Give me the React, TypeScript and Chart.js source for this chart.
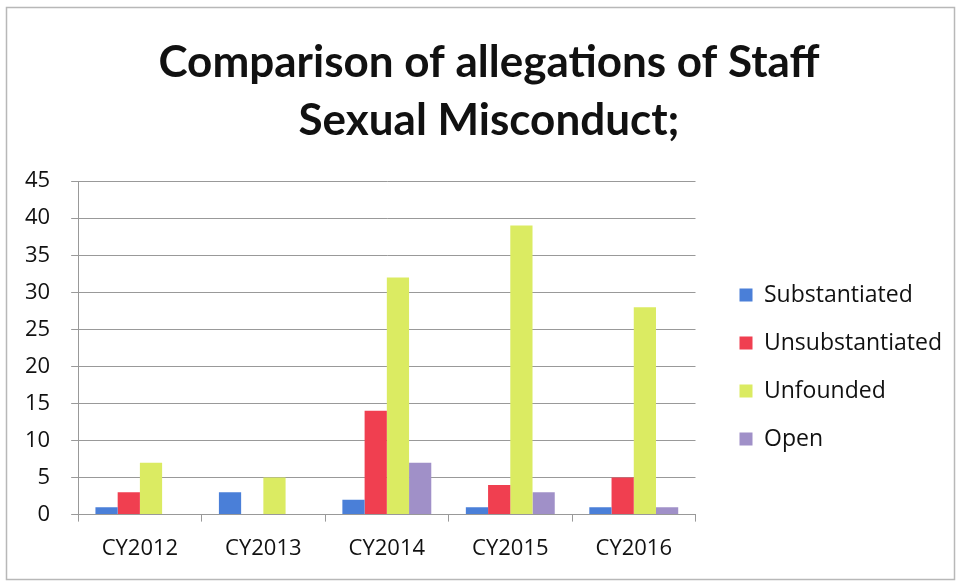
import React, { useEffect, useRef } from "react";
import { Chart, registerables } from "chart.js";

Chart.register(...registerables);

const categories = ["CY2012", "CY2013", "CY2014", "CY2015", "CY2016"];
const substantiated = [1, 3, 2, 1, 1];
const unsubstantiated = [3, 0, 14, 4, 5];
const unfounded = [7, 5, 32, 39, 28];
const open = [0, 0, 7, 3, 1];
const yTicks = [0, 5, 10, 15, 20, 25, 30, 35, 40, 45];
const titleLines = ["Comparison of allegations of Staff", "Sexual Misconduct;"];

const borderPlugin = {
  id: "outerBorder",
  beforeDraw(chart: any) {
    const ctx = chart.ctx;
    ctx.save();
    ctx.fillStyle = "#ffffff";
    ctx.fillRect(0, 0, chart.width, chart.height);
    ctx.strokeStyle = "#b8b8b8";
    ctx.lineWidth = 1.5;
    ctx.strokeRect(6.5, 7.5, 948, 572);
    ctx.restore();
  },
};

const boxShift = {
  id: "boxShift",
  afterLayout(chart: any) {
    const lg = chart.legend;
    if (lg) {
      lg.left += 19;
      lg.right += 19;
      lg.top += 62;
      lg.bottom += 62;
    }
    const tb = chart.titleBlock;
    if (tb) {
      tb.left += 24;
      tb.right += 24;
    }
  },
};

export default function App() {
  const ref = useRef<HTMLCanvasElement>(null);
  useEffect(() => {
    document.body.style.margin = "0";
    const chart = new Chart(ref.current!, {
      type: "bar",
      data: {
        labels: categories,
        datasets: [
          { label: "Substantiated", data: substantiated, backgroundColor: "#4a7fd8" },
          { label: "Unsubstantiated", data: unsubstantiated, backgroundColor: "#f03f50" },
          { label: "Unfounded", data: unfounded, backgroundColor: "#dbeb62" },
          { label: "Open", data: open, backgroundColor: "#a090c8" },
        ],
      },
      options: {
        animation: false,
        responsive: false,
        maintainAspectRatio: false,
        layout: { padding: { left: 4, right: 31, top: 34, bottom: 7 } },
        datasets: { bar: { categoryPercentage: 0.72, barPercentage: 1 } } as any,
        plugins: {
          title: {
            display: true,
            text: titleLines,
            color: "#111",
            font: { family: "Lato", size: 44, weight: "bold", lineHeight: 1.32 },
            padding: { top: 0, bottom: 31 },
          },
          legend: {
            position: "right",
            labels: {
              color: "#111",
              font: { family: "Open Sans", size: 23 },
              boxWidth: 13,
              boxHeight: 13,
              padding: 25,
            },
          },
          tooltip: { enabled: false },
        },
        scales: {
          x: {
            grid: {
              display: true,
              drawOnChartArea: false,
              offset: true,
              tickLength: 7,
              color: "#999",
            },
            border: { color: "#999" },
            ticks: { color: "#111", font: { family: "Open Sans", size: 22 }, padding: 14 },
          },
          y: {
            min: 0,
            max: 45,
            afterBuildTicks: (axis: any) => {
              axis.ticks = yTicks.map((v) => ({ value: v }));
            },
            grid: { color: "#999", tickLength: 7 },
            border: { color: "#999" },
            ticks: { color: "#111", font: { family: "Open Sans", size: 22 }, padding: 21 },
          },
        },
      },
      plugins: [borderPlugin, boxShift],
    });
    return () => chart.destroy();
  }, []);
  return (
    <div style={{ position: "absolute", left: 0, top: 0, width: 957, height: 583 }}>
      <canvas ref={ref} width={957} height={583} style={{ width: 957, height: 583 }} />
    </div>
  );
}
